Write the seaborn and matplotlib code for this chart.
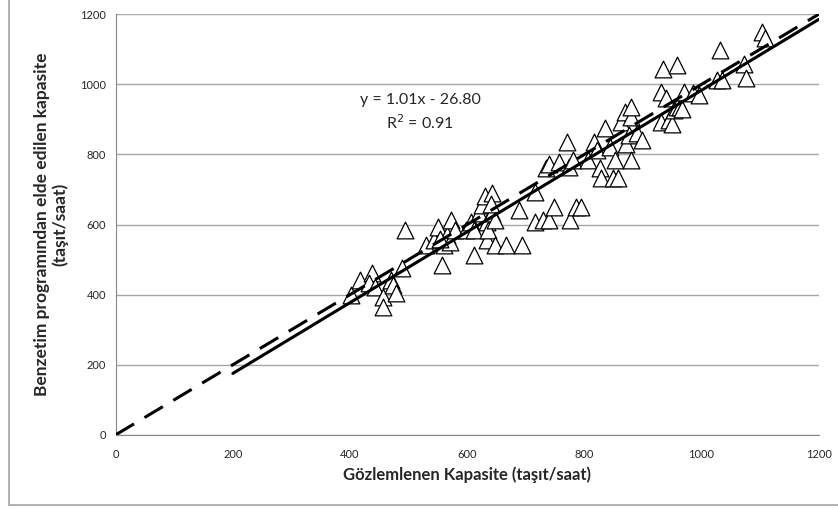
import numpy as np
import pandas as pd
import seaborn as sns
import matplotlib.pyplot as plt
from matplotlib.lines import Line2D

# gozlemlenen (x) ve benzetim (y) kapasiteleri
gozlem = [401, 417, 438, 433, 442, 456, 456, 470, 474, 479, 488, 494, 529, 543, 550,
          557, 561, 566, 570, 572, 579, 598, 607, 611, 611, 620, 625, 630, 634, 634,
          636, 643, 643, 648, 648, 666, 689, 693, 716, 716, 730, 739, 748, 734, 739,
          757, 771, 773, 776, 780, 785, 794, 807, 817, 821, 826, 828, 835, 844, 849,
          853, 858, 862, 871, 869, 876, 880, 880, 879, 890, 899, 931, 931, 935, 940,
          944, 949, 953, 958, 958, 963, 967, 970, 985, 995, 1026, 1031, 1035, 1072,
          1076, 1104, 1108, 553, 640]
benzetim = [399, 442, 461, 432, 423, 394, 366, 442, 428, 404, 475, 584, 542, 556, 594,
            485, 542, 570, 551, 613, 584, 584, 608, 513, 584, 632, 656, 680, 556, 608,
            584, 632, 689, 613, 542, 542, 641, 542, 694, 608, 613, 613, 651, 760, 774,
            779, 836, 765, 613, 784, 651, 651, 784, 836, 812, 760, 732, 874, 822, 732,
            784, 732, 893, 831, 922, 855, 907, 936, 784, 860, 841, 893, 979, 1045, 960,
            898, 888, 926, 1055, 936, 936, 931, 979, 974, 969, 1012, 1097, 1012, 1059,
            1017, 1150, 1131, 560, 660]

egim = 1.01
kesisim = -26.80
r2 = 0.91
reg_x = [200, 1200]
esit_x = [0, 1200]

df = pd.DataFrame({"x": gozlem, "y": benzetim})

sns.set_style("white")
plt.rcParams['font.family'] = ['Lato', 'DejaVu Sans']

fig = plt.figure(figsize=(8.38, 5.08), dpi=100)
ax = fig.add_axes([0.138, 0.144, 0.839, 0.828])

sns.scatterplot(data=df, x="x", y="y", marker="^", s=145, facecolor="white",
                edgecolor="black", linewidth=0.9, ax=ax, zorder=3)

ax.plot(esit_x, [v for v in esit_x], color="black", lw=2.2, ls=(0, (7, 4)), zorder=4)
ax.plot(reg_x, [egim * v + kesisim for v in reg_x], color="black", lw=2.2, zorder=4)

ax.text(520, 955, f"y = {egim:.2f}x - {abs(kesisim):.2f}", ha="center", va="center", fontsize=11.5)
ax.text(520, 891, f"R$^2$ = {r2:.2f}", ha="center", va="center", fontsize=11.5)

ax.set_xlim(0, 1200)
ax.set_ylim(0, 1200)
ax.set_xticks(range(0, 1201, 200))
ax.set_yticks(range(0, 1201, 200))
ax.yaxis.grid(True, color="#a6a6a6", lw=1)
ax.xaxis.grid(False)
ax.set_axisbelow(True)
for s in ["top", "right"]:
    ax.spines[s].set_visible(False)
for s in ["left", "bottom"]:
    ax.spines[s].set_color("#868686")
ax.tick_params(axis="both", labelsize=8, length=4, width=0.8, color="#868686",
               direction="out", pad=3)
ax.tick_params(axis="x", pad=6)

ax.set_xlabel("Gözlemlenen Kapasite (taşıt/saat)", fontsize=12, fontweight="bold", labelpad=5)
ax.set_ylabel("Benzetim programından elde edilen kapasite\n(taşıt/saat)", fontsize=12.5,
              fontweight="bold", labelpad=8)

# dis cerceve
fig.add_artist(Line2D([0.011, 0.011], [0.006, 1.0], color="#a6a6a6", lw=1.2, transform=fig.transFigure))
fig.add_artist(Line2D([0.011, 1.0], [0.006, 0.006], color="#a6a6a6", lw=1.2, transform=fig.transFigure))

fig.savefig("out.png", dpi=100)
